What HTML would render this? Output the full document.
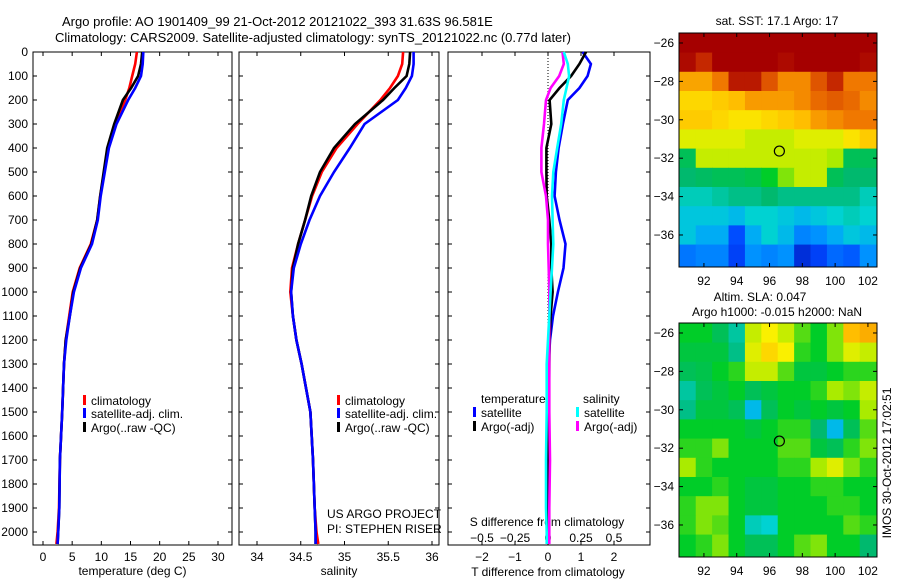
<!DOCTYPE html>
<html><head><meta charset="utf-8">
<style>
html,body{margin:0;padding:0;background:#fff;}
svg{display:block;font-family:"Liberation Sans",sans-serif;font-size:12px;}
</style></head>
<body>
<svg id="fig" width="900" height="580" viewBox="0 0 900 580" xmlns="http://www.w3.org/2000/svg">
<rect width="900" height="580" fill="#fff"/>
<text x="62" y="26" font-size="13">Argo profile: AO 1901409_99 21-Oct-2012 20121022_393 31.63S 96.581E</text>
<text x="55" y="42" font-size="13">Climatology: CARS2009. Satellite-adjusted climatology: synTS_20121022.nc (0.77d later)</text>
<g id="g1"></g>
<g id="g2"></g>
<g id="g3"></g>
<g id="m1"></g>
<g id="m2"></g>
<text transform="translate(891,463) rotate(-90)" text-anchor="middle">IMOS 30-Oct-2012 17:02:51</text>
</svg>
<script>
// ---- profile data ----
const depths    = [0,50,100,150,200,300,400,500,600,700,800,900,1000,1100,1200,1300,1500,1700,1900,2000,2050];
const tempClim  = [16.1,15.8,15.3,14.8,14.1,12.3,11.1,10.5,9.8,9.3,8.2,6.3,5.1,4.5,3.9,3.6,3.3,2.9,2.75,2.5,2.3];
const tempSat   = [17.2,17.1,16.8,15.8,14.6,12.6,11.3,10.6,9.9,9.4,8.4,6.5,5.3,4.6,4.0,3.6,3.3,2.9,2.8,2.6,2.5];
const tempArgo  = [17.0,16.8,16.3,15.1,13.7,12.2,11.0,10.4,9.8,9.3,8.3,6.4,5.2,4.6,3.9,3.6,3.3,2.9,2.8,2.6,2.5];
const salClim   = [35.67,35.66,35.61,35.52,35.41,35.15,34.91,34.74,34.63,34.55,34.47,34.40,34.38,34.41,34.45,34.51,34.61,34.64,34.66,34.68,34.70];
const salSat    = [35.79,35.79,35.77,35.70,35.61,35.23,35.06,34.88,34.72,34.60,34.50,34.42,34.39,34.41,34.45,34.51,34.61,34.64,34.66,34.67,34.67];
const salArgo   = [35.75,35.74,35.71,35.57,35.44,35.12,34.88,34.72,34.62,34.55,34.47,34.41,34.39,34.41,34.45,34.51,34.61,34.64,34.66,34.67,34.67];
const dTsat     = [1.05,1.3,1.2,0.95,0.6,0.45,0.32,0.24,0.2,0.35,0.53,0.47,0.3,0.15,0.06,0.02,0.01,0.01,0.0,0.0,0.0];
const dTargo    = [1.15,0.95,0.7,0.35,0.05,0.1,-0.05,-0.05,-0.04,0.04,0.1,0.1,0.14,0.08,0.05,0.04,0.03,0.02,0.02,0.02,0.02];
const dSsat     = [0.12,0.15,0.16,0.14,0.12,0.1,0.07,0.04,0.03,0.035,0.04,0.03,0.02,0.01,0.0,-0.01,-0.01,-0.015,-0.015,-0.01,-0.01];
const dSargo    = [0.11,0.12,0.085,0.02,-0.015,-0.03,-0.05,-0.05,-0.015,0.0,0.0,0.005,0.01,0.01,0.01,0.01,0.01,0.015,0.01,0.01,0.01];
const depthTicks = [0,100,200,300,400,500,600,700,800,900,1000,1100,1200,1300,1400,1500,1600,1700,1800,1900,2000];
const tempTicks = [0,5,10,15,20,25,30];
const salTicks  = [34,34.5,35,35.5,36];
const dTTicks   = [-2,-1,0,1,2];
const dSTicks   = [-0.5,-0.25,0,0.25,0.5];
// ---- map data (row = lat 26..37, col = lon 91..102) ----
const lonTicks = [92,94,96,98,100,102];
const latTicks = [26,28,30,32,34,36];
const sstGrid = [
[1,1,1,1,1,1,1,1,1,1,1,1],
[0.98,0.92,1,1,1,1,0.98,1,1,1,1,0.98],
[0.75,0.75,0.8,0.95,0.95,0.85,0.78,0.78,0.85,0.92,0.8,0.8],
[0.68,0.68,0.7,0.72,0.76,0.76,0.76,0.78,0.82,0.84,0.82,0.78],
[0.7,0.7,0.68,0.66,0.66,0.68,0.7,0.72,0.76,0.78,0.8,0.8],
[0.62,0.62,0.62,0.62,0.6,0.6,0.6,0.62,0.62,0.62,0.66,0.7],
[0.46,0.6,0.6,0.6,0.6,0.6,0.6,0.6,0.6,0.58,0.46,0.46],
[0.44,0.45,0.46,0.46,0.47,0.5,0.56,0.6,0.6,0.46,0.44,0.44],
[0.38,0.38,0.4,0.42,0.42,0.44,0.42,0.42,0.42,0.42,0.42,0.38],
[0.34,0.34,0.34,0.32,0.36,0.36,0.34,0.32,0.34,0.36,0.38,0.36],
[0.34,0.3,0.3,0.16,0.3,0.36,0.32,0.24,0.26,0.3,0.34,0.32],
[0.22,0.24,0.24,0.14,0.26,0.24,0.26,0.1,0.14,0.2,0.18,0.26]];
const slaGrid = [
[0.5,0.5,0.46,0.4,0.6,0.64,0.6,0.54,0.5,0.56,0.72,0.74],
[0.48,0.48,0.48,0.42,0.62,0.68,0.64,0.52,0.5,0.56,0.62,0.6],
[0.46,0.47,0.5,0.52,0.6,0.6,0.54,0.48,0.48,0.5,0.52,0.52],
[0.4,0.46,0.48,0.5,0.46,0.48,0.5,0.5,0.52,0.58,0.56,0.6],
[0.42,0.48,0.48,0.46,0.32,0.46,0.5,0.48,0.5,0.48,0.5,0.58],
[0.5,0.5,0.5,0.5,0.48,0.5,0.52,0.52,0.44,0.32,0.46,0.54],
[0.52,0.52,0.56,0.5,0.5,0.5,0.54,0.54,0.48,0.46,0.52,0.56],
[0.58,0.52,0.5,0.5,0.5,0.5,0.52,0.52,0.58,0.62,0.56,0.52],
[0.5,0.5,0.52,0.5,0.48,0.48,0.5,0.5,0.52,0.52,0.5,0.5],
[0.52,0.56,0.56,0.5,0.48,0.48,0.5,0.5,0.5,0.52,0.52,0.5],
[0.52,0.56,0.54,0.5,0.38,0.36,0.5,0.5,0.5,0.5,0.54,0.52],
[0.5,0.52,0.56,0.5,0.46,0.46,0.5,0.54,0.56,0.5,0.5,0.44]];
const argoLon = 96.6, argoLat = 31.63;

const NS="http://www.w3.org/2000/svg";
function mk(parent,tag,attrs){const e=document.createElementNS(NS,tag);for(const k in attrs)e.setAttribute(k,attrs[k]);parent.appendChild(e);return e;}
function txt(parent,x,y,s,anchor){const t=mk(parent,'text',{x:x,y:y,'text-anchor':anchor||'start'});t.textContent=s;return t;}

const TOP=52,BOT=545;
const yD=d=>TOP+d*0.24;

function panel(g,L,R,xf,ticks,lbls,xlabel){
  mk(g,'rect',{x:L,y:TOP,width:R-L,height:BOT-TOP,fill:'none',stroke:'#000','stroke-width':1});
  depthTicks.forEach(d=>{const y=yD(d);
    const t=mk(g,'line',{x1:L,x2:L+4,y1:y,y2:y,stroke:'#000'});
    
    
    mk(g,'line',{x1:R-4,x2:R,y1:y,y2:y,stroke:'#000'});});
  ticks.forEach((v,i)=>{const x=xf(v);
    mk(g,'line',{x1:x,x2:x,y1:TOP,y2:TOP+4,stroke:'#000'});
    mk(g,'line',{x1:x,x2:x,y1:BOT-4,y2:BOT,stroke:'#000'});
    if(lbls){const t=txt(g,x,BOT+16,lbls[i],'middle');
      
      }});
  if(xlabel){const t=txt(g,(L+R)/2,BOT+30,xlabel,'middle');
    
    }
}
function line(g,xs,xf,col,name){
  const pts=depths.map((d,i)=>xf(xs[i]).toFixed(1)+','+yD(d).toFixed(1)).join(' ');
  const p=mk(g,'polyline',{points:pts,fill:'none',stroke:col,'stroke-width':2.6,'stroke-linejoin':'miter'});
  
  
}
function legendEntry(g,x,y,col,label){
  mk(g,'rect',{x:x,y:y-10,width:3,height:10,fill:col});
  const t=txt(g,x+8,y,label);
  
  
}
// panel 1
const g1=document.getElementById('g1');
const xT=v=>43+v*5.833;
panel(g1,33,232,xT,tempTicks,tempTicks.map(String),'temperature (deg C)');
depthTicks.forEach(d=>{const t=txt(g1,28,yD(d)+4,String(d),'end');
  
  });
line(g1,tempClim,xT,'#f00','temp-climatology-line');
line(g1,tempArgo,xT,'#000','temp-argo-line');
line(g1,tempSat,xT,'#00f','temp-satellite-line');
legendEntry(g1,83,405,'#f00','climatology');
legendEntry(g1,83,418,'#00f','satellite-adj. clim.');
legendEntry(g1,83,432,'#000','Argo(..raw -QC)');
// panel 2
const g2=document.getElementById('g2');
const xS=v=>257+(v-34)*87.5;
panel(g2,239,439,xS,salTicks,['34','34.5','35','35.5','36'],'salinity');
line(g2,salClim,xS,'#f00','sal-climatology-line');
line(g2,salArgo,xS,'#000','sal-argo-line');
line(g2,salSat,xS,'#00f','sal-satellite-line');
legendEntry(g2,337,405,'#f00','climatology');
legendEntry(g2,337,418,'#00f','satellite-adj. clim.');
legendEntry(g2,337,432,'#000','Argo(..raw -QC)');
const pl=txt(g2,327,518,'US ARGO PROJECT');


const pi=txt(g2,327,533,'PI: STEPHEN RISER');


// panel 3
const g3=document.getElementById('g3');
const xDT=v=>548+v*33;
const xDS=v=>548+v*132;
panel(g3,448,650,xDT,dTTicks,null,null);
mk(g3,'line',{x1:548,x2:548,y1:TOP,y2:BOT,stroke:'#000','stroke-dasharray':'1,2'});
dTTicks.forEach(v=>{const t=txt(g3,xDT(v),BOT+16,v<0?'\u2212'+(-v):String(v),'middle');
  
  });
dSTicks.forEach(v=>{const t=txt(g3,xDS(v),BOT-3,v<0?'\u2212'+(-v):String(v),'middle');
  
  });
const tt=txt(g3,548,576,'T difference from climatology','middle');


const st=txt(g3,547,526,'S difference from climatology','middle');


line(g3,dTsat,xDT,'#00f','t-diff-satellite-line');
line(g3,dTargo,xDT,'#000','t-diff-argo-line');
line(g3,dSargo,xDS,'#f0f','s-diff-argo-line');
line(g3,dSsat,xDS,'#0ff','s-diff-satellite-line');
txt(g3,481,403,'temperature');
txt(g3,583,403,'salinity');
legendEntry(g3,473,417,'#00f','satellite');
legendEntry(g3,473,431,'#000','Argo(-adj)');
legendEntry(g3,576,417,'#0ff','satellite');
legendEntry(g3,576,431,'#f0f','Argo(-adj)');

// ---- maps ----
const cstops=[[0,[0,0,140]],[0.15,[0,70,255]],[0.28,[0,160,255]],[0.36,[0,210,210]],[0.44,[0,185,110]],[0.5,[0,205,40]],[0.58,[170,235,0]],[0.64,[250,240,0]],[0.72,[255,190,0]],[0.8,[240,120,0]],[0.9,[205,50,0]],[1,[165,0,0]]];
function cmap(v){for(let i=1;i<cstops.length;i++){if(v<=cstops[i][0]){const a=cstops[i-1],b=cstops[i],t=(v-a[0])/(b[0]-a[0]);
  return 'rgb('+a[1].map((c,k)=>Math.round(c+(b[1][k]-c)*t)).join(',')+')';}}return 'rgb(165,0,0)';}
function map(id,top,grid,t1,t2){
  const g=document.getElementById(id);
  const L=679,R=877,B=top+234;
  const xl=lon=>L+(lon-90.48)*16.4;
  const yl=lat=>top+(lat-25.48)*19.2;
  grid.forEach((row,r)=>row.forEach((v,c)=>{
    const x0=Math.max(L,xl(90.5+c)),x1=Math.min(R,xl(91.5+c)+(c==11?2:0));
    const y0=Math.max(top,yl(25.5+r)),y1=Math.min(B,yl(26.5+r)+(r==11?3:0));
    const cell=mk(g,'rect',{x:x0,y:y0,width:x1-x0+0.5,height:y1-y0+0.5,fill:cmap(v)});
    
    
  }));
  mk(g,'rect',{x:L,y:top,width:R-L,height:B-top,fill:'none',stroke:'#000'});
  lonTicks.forEach(lon=>{const x=xl(lon);
    mk(g,'line',{x1:x,x2:x,y1:top,y2:top+4,stroke:'#000'});
    mk(g,'line',{x1:x,x2:x,y1:B-4,y2:B,stroke:'#000'});
    const t=txt(g,x,B+18,String(lon),'middle');
    
    });
  latTicks.forEach(lat=>{const y=yl(lat);
    mk(g,'line',{x1:L,x2:L+4,y1:y,y2:y,stroke:'#000'});
    mk(g,'line',{x1:R-4,x2:R,y1:y,y2:y,stroke:'#000'});
    const t=txt(g,674,y+4,'\u2212'+lat,'end');
    
    });
  const c=mk(g,'circle',{cx:xl(argoLon),cy:yl(argoLat),r:5,fill:'none',stroke:'#000','stroke-width':1.2});
  
  
  if(t1){const t=txt(g,t1[1],t1[2],t1[0],'middle');
    
    }
  if(t2){const t=txt(g,t2[1],t2[2],t2[0],'middle');
    
    }
}
map('m1',33,sstGrid,['sat. SST: 17.1 Argo: 17',777,25],null);
map('m2',323,slaGrid,['Altim. SLA: 0.047',760,301],['Argo h1000: -0.015 h2000: NaN',777,316]);
</script>
</body></html>
